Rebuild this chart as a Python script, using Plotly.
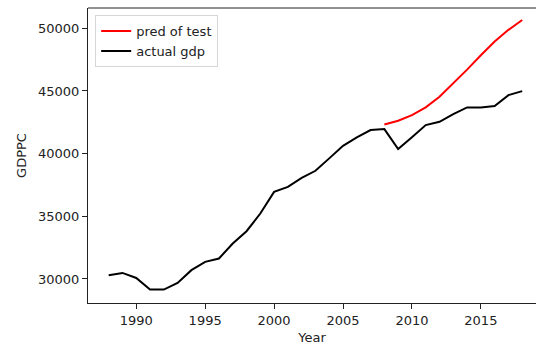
import plotly.graph_objects as go

years_actual = list(range(1988, 2019))
gdp_actual = [30300, 30480, 30080, 29150, 29150, 29680, 30700, 31360, 31630, 32830,
              33810, 35220, 36950, 37350, 38070, 38630, 39620, 40620, 41290, 41880,
              41960, 40360, 41300, 42280, 42540, 43150, 43690, 43690, 43790, 44670,
              44990]

years_pred = list(range(2008, 2019))
gdp_pred = [42330, 42620, 43070, 43690, 44540, 45610, 46700, 47850, 48950, 49880, 50660]

x_ticks = [1990, 1995, 2000, 2005, 2010, 2015]
y_ticks = [30000, 35000, 40000, 45000, 50000]

FONT = "DejaVu Sans"

fig = go.Figure()
fig.add_trace(go.Scatter(x=years_pred, y=gdp_pred, mode="lines", name="pred of test",
                         line=dict(color="red", width=2)))
fig.add_trace(go.Scatter(x=years_actual, y=gdp_actual, mode="lines", name="actual gdp",
                         line=dict(color="black", width=2)))

fig.update_layout(
    width=536, height=349,
    margin=dict(l=88, r=0, t=8, b=46),
    paper_bgcolor="white", plot_bgcolor="white",
    font=dict(family=FONT, size=13, color="#222"),
    showlegend=True,
    legend=dict(x=0.016, y=0.976, xanchor="left", yanchor="top",
                bgcolor="rgba(255,255,255,0.8)", bordercolor="#d6d6d6", borderwidth=1,
                font=dict(size=13, family=FONT, color="#222"),
                tracegroupgap=0, itemwidth=30),
    xaxis=dict(range=[1986.5, 2019.0], tickvals=x_ticks, showgrid=False, zeroline=False,
               showline=True, linecolor="#222", linewidth=1,
               ticks="outside", ticklen=5, tickcolor="#222", tickwidth=1,
               title=dict(text="Year", font=dict(size=13, family=FONT, color="#222"), standoff=6)),
    yaxis=dict(range=[28080, 51620], tickvals=y_ticks, tickformat="d", showgrid=False,
               zeroline=False, showline=True, linecolor="#222", linewidth=1,
               ticks="outside", ticklen=5, tickcolor="#222", tickwidth=1,
               title=dict(text="GDPPC", font=dict(size=13, family=FONT, color="#222"), standoff=8)),
    shapes=[dict(type="line", xref="paper", yref="paper", x0=0, x1=1, y0=1, y1=1,
                 line=dict(color="#222", width=1))],
)

fig.write_html("out.html")
